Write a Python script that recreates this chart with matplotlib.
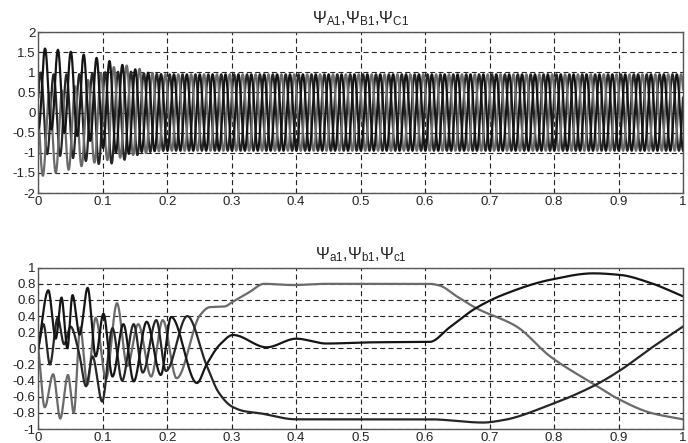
import numpy as np
import matplotlib
matplotlib.use("Agg")
import matplotlib.pyplot as plt

plt.rcParams['font.family'] = ['Liberation Sans', 'DejaVu Sans']
plt.rcParams['mathtext.fontset'] = 'custom'
plt.rcParams['mathtext.rm'] = 'Liberation Sans'
plt.rcParams['mathtext.it'] = 'Liberation Sans'

# ---------------- data: top plot (stator flux), 50 Hz envelopes
f_supply = 50.0
peak_time_A = 0.0104            # first peak of phase A
env_t   = [0.0, 0.02, 0.04, 0.06, 0.08, 0.10, 0.12, 0.14, 0.16, 0.18, 0.20, 1.0]
off_A   = [0.60, 0.58, 0.52, 0.45, 0.35, 0.22, 0.12, 0.05, 0.02, 0.0, 0.0, 0.0]
amp_A   = [1.00, 1.00, 1.02, 1.03, 1.05, 1.10, 1.12, 1.08, 1.00, 0.96, 0.95, 0.95]
off_B   = [-0.60, -0.52, -0.45, -0.35, -0.22, -0.10, 0.0, 0.05, 0.02, 0.0, 0.0, 0.0]
amp_B   = [1.00, 1.00, 1.00, 1.02, 1.05, 1.10, 1.15, 1.12, 1.05, 0.97, 0.95, 0.95]
off_C   = [0.0, -0.05, -0.07, -0.10, -0.13, -0.15, -0.12, -0.06, -0.02, 0.0, 0.0, 0.0]
amp_C   = [1.00, 1.00, 1.02, 1.05, 1.10, 1.15, 1.13, 1.08, 1.00, 0.96, 0.95, 0.95]

# ---------------- data: bottom plot (rotor flux), extrema / key points
k1_t = [0, 0.0155, 0.027, 0.036, 0.045, 0.053, 0.064, 0.0765, 0.089, 0.101, 0.115, 0.132,
        0.148, 0.168, 0.19, 0.206, 0.246, 0.261, 0.282, 0.302, 0.354, 0.40, 0.447, 0.52,
        0.607, 0.638, 0.679, 0.721, 0.794, 0.861, 0.903, 0.95, 1.0]
k1_y = [0, 0.72, 0.12, 0.63, 0.0, 0.66, 0.17, 0.75, -0.10, 0.43, -0.35, 0.30,
        -0.41, 0.33, -0.33, 0.39, -0.43, -0.20, 0.05, 0.166, 0.013, 0.12, 0.06, 0.075,
        0.08, 0.26, 0.50, 0.665, 0.85, 0.93, 0.91, 0.81, 0.645]

k2_t = [0, 0.008, 0.018, 0.030, 0.040, 0.050, 0.063, 0.074, 0.084, 0.099, 0.115, 0.130,
        0.148, 0.162, 0.183, 0.198, 0.231, 0.261, 0.280, 0.300, 0.32, 0.34, 0.40, 0.607,
        0.69, 0.721, 0.794, 0.864, 0.903, 0.95, 1.0]
k2_y = [0, 0.30, -0.20, 0.38, 0.05, 0.27, -0.05, -0.47, -0.10, -0.66, 0.25, -0.40,
        0.30, -0.30, 0.35, -0.28, 0.40, -0.21, -0.55, -0.72, -0.78, -0.80, -0.88, -0.88,
        -0.92, -0.89, -0.70, -0.455, -0.27, 0.0, 0.27]

g_t = [0, 0.010, 0.023, 0.034, 0.046, 0.055, 0.065, 0.076, 0.089, 0.105, 0.122, 0.138,
       0.155, 0.175, 0.193, 0.2145, 0.2507, 0.2655, 0.2895, 0.300, 0.328, 0.35, 0.395,
       0.447, 0.607, 0.622, 0.65, 0.679, 0.742, 0.794, 0.864, 0.898, 0.95, 1.0]
g_y = [0, -0.73, -0.32, -0.87, -0.33, -0.80, 0.26, -0.45, 0.38, -0.38, 0.56, -0.22,
       0.30, -0.35, 0.35, -0.37, 0.41, 0.51, 0.52, 0.57, 0.70, 0.80, 0.785,
       0.80, 0.80, 0.78, 0.64, 0.50, 0.27, -0.10, -0.455, -0.62, -0.80, -0.88]

x_ticks = [0, 0.1, 0.2, 0.3, 0.4, 0.5, 0.6, 0.7, 0.8, 0.9, 1]
x_labels = ['0', '0.1', '0.2', '0.3', '0.4', '0.5', '0.6', '0.7', '0.8', '0.9', '1']
top_yticks = [-2, -1.5, -1, -0.5, 0, 0.5, 1, 1.5, 2]
top_ylabels = ['-2', '-1.5', '-1', '-0.5', '0', '0.5', '1', '1.5', '2']
bot_yticks = [-1, -0.8, -0.6, -0.4, -0.2, 0, 0.2, 0.4, 0.6, 0.8, 1]
bot_ylabels = ['-1', '-0.8', '-0.6', '-0.4', '-0.2', '0', '0.2', '0.4', '0.6', '0.8', '1']
title_top = r'$\Psi_{\mathrm{A1}}$,$\Psi_{\mathrm{B1}}$,$\Psi_{\mathrm{C1}}$'
title_bot = r'$\Psi_{\mathrm{a1}}$,$\Psi_{\mathrm{b1}}$,$\Psi_{\mathrm{c1}}$'

DARK = '#151515'
DARK2 = '#262626'
GRAY = '#6a6a6a'


def pchip(xk, yk, x):
    xk = np.asarray(xk, float)
    yk = np.asarray(yk, float)
    h = np.diff(xk)
    d = np.diff(yk) / h
    m = np.zeros_like(yk)
    for k in range(1, len(xk) - 1):
        if d[k - 1] * d[k] <= 0:
            m[k] = 0.0
        else:
            w1 = 2 * h[k] + h[k - 1]
            w2 = h[k] + 2 * h[k - 1]
            m[k] = (w1 + w2) / (w1 / d[k - 1] + w2 / d[k])
    m[0] = d[0]
    m[-1] = d[-1]
    idx = np.clip(np.searchsorted(xk, x) - 1, 0, len(xk) - 2)
    hh = h[idx]
    s = (x - xk[idx]) / hh
    h00 = 2 * s**3 - 3 * s**2 + 1
    h10 = s**3 - 2 * s**2 + s
    h01 = -2 * s**3 + 3 * s**2
    h11 = s**3 - s**2
    return h00 * yk[idx] + h10 * hh * m[idx] + h01 * yk[idx + 1] + h11 * hh * m[idx + 1]


fig = plt.figure(figsize=(6.88, 4.43), dpi=100)
ax1 = fig.add_axes([0.0557, 0.5643, 0.937, 0.3634])
ax2 = fig.add_axes([0.0557, 0.0316, 0.937, 0.3641])

t = np.linspace(0, 1, 20001)
w = 2 * np.pi * f_supply
phase = w * (t - peak_time_A)
ya = np.interp(t, env_t, off_A) + np.interp(t, env_t, amp_A) * np.cos(phase)
yb = np.interp(t, env_t, off_B) + np.interp(t, env_t, amp_B) * np.cos(phase - 2 * np.pi / 3)
yc = np.interp(t, env_t, off_C) + np.interp(t, env_t, amp_C) * np.cos(phase + 2 * np.pi / 3)

ax1.plot(t, yc, color=DARK2, lw=1.6)
ax1.plot(t, yb, color=GRAY, lw=1.6)
ax1.plot(t, ya, color=DARK, lw=1.6)

tb = np.linspace(0, 1, 4001)
ax2.plot(tb, pchip(g_t, g_y, tb), color=GRAY, lw=1.6)
ax2.plot(tb, pchip(k2_t, k2_y, tb), color=DARK2, lw=1.6)
ax2.plot(tb, pchip(k1_t, k1_y, tb), color=DARK, lw=1.6)

for ax, yt, yl, title in [(ax1, top_yticks, top_ylabels, title_top),
                          (ax2, bot_yticks, bot_ylabels, title_bot)]:
    ax.set_xlim(0, 1)
    ax.set_ylim(yt[0], yt[-1])
    ax.set_xticks(x_ticks)
    ax.set_xticklabels(x_labels)
    ax.set_yticks(yt)
    ax.set_yticklabels(yl)
    ax.grid(True, color='#222222', linestyle=(0, (4.5, 3)), linewidth=0.8)
    ax.tick_params(direction='in', length=3, labelsize=9.5, colors='#222222', pad=2)
    for sp in ax.spines.values():
        sp.set_color('#555555')
        sp.set_linewidth(1.0)
    ax.set_title(title, fontsize=12, pad=6, color='#222222')

fig.savefig('out.png', dpi=100)
